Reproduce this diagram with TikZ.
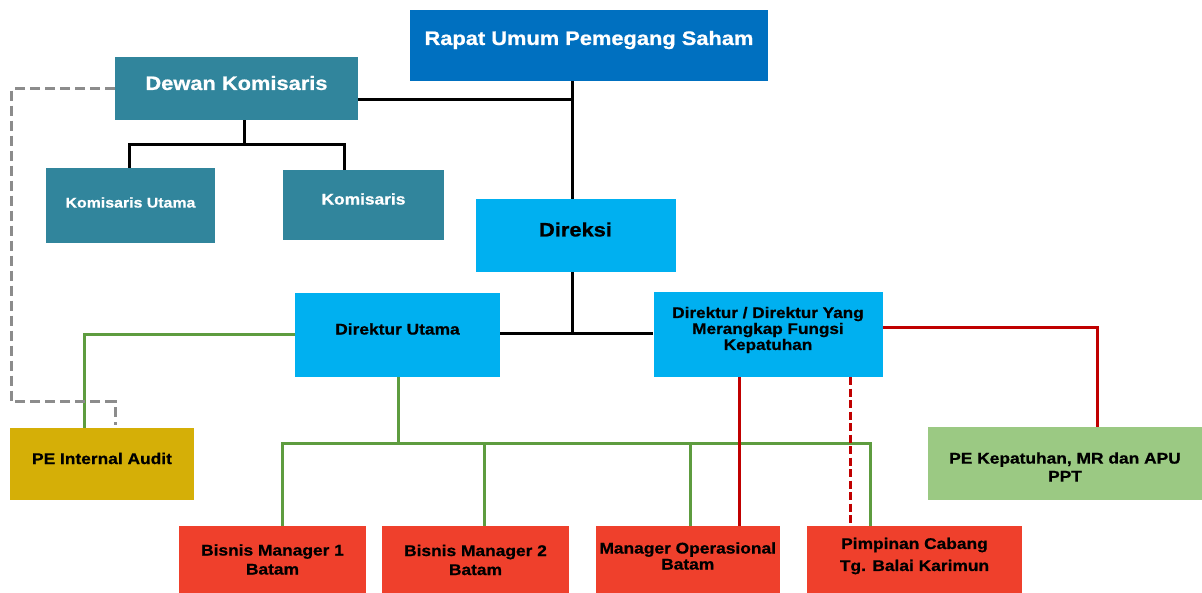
\documentclass[tikz,border=0pt]{standalone}
\usepackage{fontspec}
\setmainfont{Liberation Sans}[FakeStretch=1.12, BoldFeatures={FakeBold=0.8}]
\usetikzlibrary{calc}
\definecolor{cRups}{HTML}{0070C0}
\definecolor{cTeal}{HTML}{31859C}
\definecolor{cCyan}{HTML}{00B0F0}
\definecolor{cGold}{HTML}{D5AF07}
\definecolor{cLgreen}{HTML}{9BC983}
\definecolor{cRedbox}{HTML}{EF402C}
\definecolor{cGline}{HTML}{5E9C3F}
\definecolor{cRline}{HTML}{C00000}
\definecolor{cGray}{HTML}{8C8C8C}
\begin{document}
\begin{tikzpicture}[x=1pt,y=-1pt,
  box/.style={rectangle, draw=none, inner sep=0pt},
  big/.style={font=\bfseries\fontsize{19.5}{22}\selectfont, align=center},
  txt/.style={font=\bfseries\fontsize{15.5}{19}\selectfont, align=center},
  blk/.style={line width=3pt, black},
  grn/.style={line width=3pt, cGline},
  rdl/.style={line width=3pt, cRline},
  gry/.style={line width=3pt, cGray, dash pattern=on 10pt off 5pt},
]
\useasboundingbox (0,0) rectangle (1202,593);
\fill[white] (0,0) rectangle (1202,593);

% boxes
\node[box, fill=cRups, minimum width=358, minimum height=71,
  label={[big, text=white, yshift=5.5]center:{Rapat Umum Pemegang Saham}}] (rups) at (589,45.5) {};
\node[box, fill=cTeal, minimum width=243, minimum height=63,
  label={[big, text=white, yshift=5.5]center:{Dewan Komisaris}}] (dk) at (236.5,88.5) {};
\node[box, fill=cTeal, minimum width=169, minimum height=75,
  label={[font=\bfseries\fontsize{14.2}{17}\selectfont, text=white, yshift=3]center:{Komisaris Utama}}] (ku) at (130.5,205.5) {};
\node[box, fill=cTeal, minimum width=161, minimum height=70,
  label={[txt, text=white, yshift=6]center:{Komisaris}}] (ko) at (363.5,205) {};
\node[box, fill=cCyan, minimum width=200, minimum height=73,
  label={[big, yshift=6]center:{Direksi}}] (dir) at (575.5,235.5) {};
\node[box, fill=cCyan, minimum width=205, minimum height=84,
  label={[txt, yshift=6]center:{Direktur Utama}}] (du) at (397.5,335) {};
\node[box, fill=cCyan, minimum width=229, minimum height=85,
  label={[font=\bfseries\fontsize{15.3}{16}\selectfont, align=center, yshift=4.5]center:{Direktur / Direktur Yang\\Merangkap Fungsi\\Kepatuhan}}] (dk2) at (768,334.5) {};
\node[box, fill=cGold, minimum width=184, minimum height=72,
  label={[txt, yshift=5.5]center:{PE Internal Audit}}] (pia) at (102,464) {};
\node[box, fill=cLgreen, minimum width=274, minimum height=73,
  label={[font=\bfseries\fontsize{15.5}{18}\selectfont, align=center, yshift=-3.5]center:{PE Kepatuhan, MR dan APU\\PPT}}] (pk) at (1065,463.5) {};
\node[box, fill=cRedbox, minimum width=187, minimum height=67,
  label={[txt, yshift=0]center:{Bisnis Manager 1\\Batam}}] (bm1) at (272.5,559.5) {};
\node[box, fill=cRedbox, minimum width=187, minimum height=67,
  label={[txt, yshift=-0.5]center:{Bisnis Manager 2\\Batam}}] (bm2) at (475.5,559.5) {};
\node[box, fill=cRedbox, minimum width=184.5, minimum height=67,
  label={[font=\bfseries\fontsize{15.5}{16}\selectfont, align=center, yshift=3.5]center:{Manager Operasional\\Batam}}] (mo) at (687.75,559.5) {};
\node[box, fill=cRedbox, minimum width=215, minimum height=67,
  label={[font=\bfseries\fontsize{15.5}{22}\selectfont, align=center, yshift=3.5]center:{Pimpinan Cabang\\Tg. Balai Karimun}}] (pc) at (914.5,559.5) {};

% black connectors
\coordinate (jtop) at (572,100);
\coordinate (jmid) at (572,334);
\draw[blk] (dk.east |- jtop) -- (jtop);
\draw[blk] (rups.south -| jtop) -- (dir.north -| jtop);
\draw[blk] (dir.south -| jmid) -- (jmid);
\draw[blk] (du.east |- jmid) -- (dk2.west |- jmid);
\coordinate (jdk) at (244,145);
\coordinate (jku) at (129,145);
\coordinate (jko) at (344,145);
\draw[blk] (dk.south -| jdk) -- (jdk);
\draw[blk] (ku.north -| jku) -- (jku) -- (jko) -- (ko.north -| jko);

% green connectors
\coordinate (g1) at (84,335);
\draw[grn] (du.west |- g1) -- (g1) -- (pia.north -| g1);
\coordinate (g2) at (398.5,443);
\coordinate (gL) at (282,443);
\coordinate (gR) at (870,443);
\coordinate (gB) at (484,443);
\coordinate (gM) at (690,443);
\draw[grn] (du.south -| g2) -- (g2);
\draw[grn] (bm1.north -| gL) -- (gL) -- (gR) -- (pc.north -| gR);
\draw[grn] (gB) -- (bm2.north -| gB);
\draw[grn] (gM) -- (mo.north -| gM);

% gray dashed connector
\coordinate (gy1) at (11.5,89);
\coordinate (gy2) at (11.5,402);
\coordinate (gy3) at (115,402);
\draw[gry] (dk.west |- gy1) -- (gy1) -- (gy2) -- (gy3) -- ($(pia.north -| gy3)+(0,-3)$);

% red connectors
\coordinate (r1) at (1097,328);
\coordinate (r2) at (739,400);
\coordinate (r3) at (850,400);
\draw[rdl] (dk2.east |- r1) -- (r1) -- (pk.north -| r1);
\draw[rdl] (dk2.south -| r2) -- (mo.north -| r2);
\draw[rdl, dash pattern=on 8pt off 3.5pt] (dk2.south -| r3) -- (pc.north -| r3);
\end{tikzpicture}
\end{document}
